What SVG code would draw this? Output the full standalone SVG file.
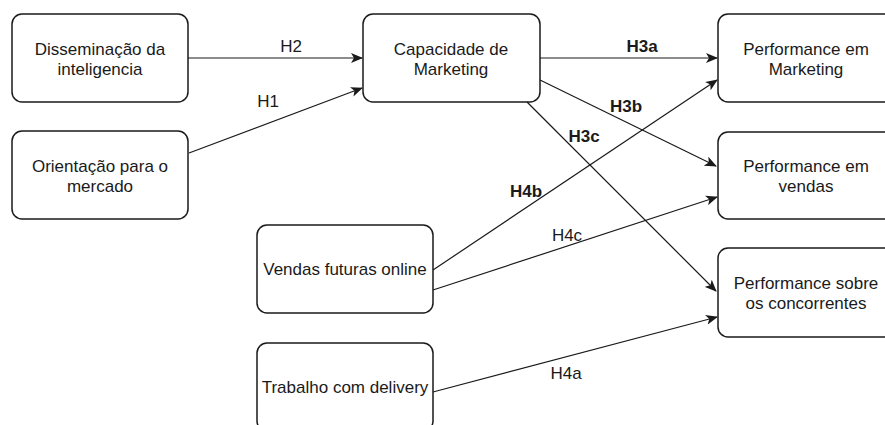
<svg xmlns="http://www.w3.org/2000/svg" width="885" height="425" viewBox="0 0 885 425">
  <style>
    .box { fill: #ffffff; stroke: #1a1a1a; stroke-width: 1.5; }
    .txt { font-family: "Liberation Sans", Arial, sans-serif; font-size: 17px; fill: #1a1a1a; text-anchor: middle; }
    .lbl { font-family: "Liberation Sans", Arial, sans-serif; font-size: 17px; fill: #1a1a1a; text-anchor: middle; }
    .b { font-weight: bold; }
    .edge { fill: none; stroke: #1a1a1a; stroke-width: 1.2; marker-end: url(#arrow); }
  </style>
  <defs>
    <marker id="arrow" viewBox="0 0 12 10" refX="11" refY="5" markerWidth="12" markerHeight="10" markerUnits="userSpaceOnUse" orient="auto">
      <path d="M0,0 L12,5 L0,10 L3,5 Z" fill="#1a1a1a"/>
    </marker>
  </defs>
  <rect width="885" height="425" fill="#ffffff"/>

  <g id="disseminacao">
    <rect class="box" x="12" y="14" width="176" height="88" rx="10"/>
    <text class="txt" x="100" y="55">Disseminação da</text>
    <text class="txt" x="100" y="75">inteligencia</text>
  </g>
  <g id="orientacao">
    <rect class="box" x="12" y="131" width="176" height="88" rx="10"/>
    <text class="txt" x="100" y="172">Orientação para o</text>
    <text class="txt" x="100" y="192">mercado</text>
  </g>
  <g id="capacidade">
    <rect class="box" x="363" y="14" width="177" height="88" rx="10"/>
    <text class="txt" x="451" y="55">Capacidade de</text>
    <text class="txt" x="451" y="75">Marketing</text>
  </g>
  <g id="perf-marketing">
    <rect class="box" x="718" y="14" width="176" height="88" rx="10"/>
    <text class="txt" x="806" y="55">Performance em</text>
    <text class="txt" x="806" y="75">Marketing</text>
  </g>
  <g id="perf-vendas">
    <rect class="box" x="718" y="132" width="176" height="87" rx="10"/>
    <text class="txt" x="806" y="172">Performance em</text>
    <text class="txt" x="806" y="192">vendas</text>
  </g>
  <g id="perf-concorrentes">
    <rect class="box" x="718" y="248" width="176" height="89" rx="10"/>
    <text class="txt" x="806" y="289">Performance sobre</text>
    <text class="txt" x="806" y="309">os concorrentes</text>
  </g>
  <g id="vendas-online">
    <rect class="box" x="257" y="225" width="176" height="88" rx="10"/>
    <text class="txt" x="345" y="275">Vendas futuras online</text>
  </g>
  <g id="delivery">
    <rect class="box" x="257" y="343" width="176" height="88" rx="10"/>
    <text class="txt" x="345" y="393">Trabalho com delivery</text>
  </g>

  <g id="connectors">
    <path class="edge" d="M188,58 L362,58"/>
    <path class="edge" d="M189,153 L362,88"/>
    <path class="edge" d="M540,58 L717,58"/>
    <path class="edge" d="M540,80 L716,166"/>
    <path class="edge" d="M527,102 L716,291"/>
    <path class="edge" d="M433,270 L717,80"/>
    <path class="edge" d="M433,290 L717,197"/>
    <path class="edge" d="M433,392 L717,317"/>

    <text class="lbl" x="291" y="52">H2</text>
    <text class="lbl" x="268" y="107">H1</text>
    <text class="lbl b" x="642" y="52">H3a</text>
    <text class="lbl b" x="626" y="112">H3b</text>
    <text class="lbl b" x="584" y="142">H3c</text>
    <text class="lbl b" x="526" y="197">H4b</text>
    <text class="lbl" x="567" y="241">H4c</text>
    <text class="lbl" x="566" y="379">H4a</text>
  </g>
</svg>
